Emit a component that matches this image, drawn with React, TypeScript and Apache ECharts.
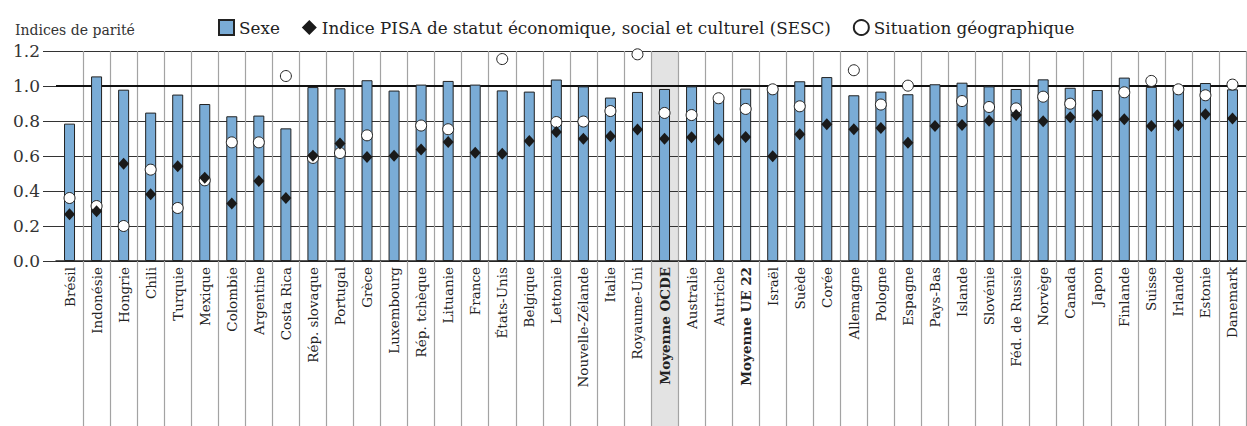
import React, { useEffect, useRef } from "react";
import * as echarts from "echarts";

const categories = [
  "Brésil", "Indonésie", "Hongrie", "Chili", "Turquie", "Mexique", "Colombie", "Argentine",
  "Costa Rica", "Rép. slovaque", "Portugal", "Grèce", "Luxembourg", "Rép. tchèque", "Lituanie",
  "France", "États-Unis", "Belgique", "Lettonie", "Nouvelle-Zélande", "Italie", "Royaume-Uni",
  "Moyenne OCDE", "Australie", "Autriche", "Moyenne UE 22", "Israël", "Suède", "Corée",
  "Allemagne", "Pologne", "Espagne", "Pays-Bas", "Islande", "Slovénie", "Féd. de Russie",
  "Norvège", "Canada", "Japon", "Finlande", "Suisse", "Irlande", "Estonie", "Danemark",
];

const boldCategories = ["Moyenne OCDE", "Moyenne UE 22"];
const highlightCategory = "Moyenne OCDE";

const sexe = [
  0.785, 1.055, 0.979, 0.848, 0.951, 0.897, 0.827, 0.831, 0.758, 0.994, 0.987, 1.033, 0.974,
  1.008, 1.029, 1.008, 0.975, 0.968, 1.037, 0.998, 0.934, 0.966, 0.983, 0.998, 0.93, 0.985,
  0.985, 1.027, 1.051, 0.947, 0.968, 0.953, 1.01, 1.019, 0.998, 0.983, 1.038, 0.99, 0.977,
  1.048, 0.995, 0.998, 1.017, 0.981,
];

const sesc = [
  0.267, 0.284, 0.556, 0.381, 0.541, 0.476, 0.328, 0.457, 0.36, 0.602, 0.671, 0.594, 0.602,
  0.637, 0.68, 0.619, 0.613, 0.686, 0.737, 0.699, 0.713, 0.751, 0.699, 0.707, 0.695, 0.709,
  0.598, 0.724, 0.781, 0.753, 0.76, 0.676, 0.772, 0.777, 0.802, 0.834, 0.798, 0.821, 0.833,
  0.81, 0.772, 0.776, 0.838, 0.815,
];

const geo: (number | string)[] = [
  0.36, 0.314, 0.2, 0.522, 0.303, 0.461, 0.678, 0.678, 1.057, 0.589, 0.617, 0.718, "-",
  0.774, 0.753, "-", 1.154, "-", 0.794, 0.797, 0.857, 1.181, 0.846, 0.834, 0.93, 0.869,
  0.981, 0.884, "-", 1.09, 0.894, 1.002, "-", 0.914, 0.88, 0.872, 0.939, 0.899, "-",
  0.964, 1.029, 0.981, 0.947, 1.008,
];

const yTicks = { min: 0, max: 1.2, interval: 0.2 };

const seriesNames = {
  sexe: "Sexe",
  sesc: "Indice PISA de statut économique, social et culturel (SESC)",
  geo: "Situation géographique",
};

const FONT = "DejaVu Serif";

export default function App() {
  const ref = useRef<HTMLDivElement>(null);

  useEffect(() => {
    if (!ref.current) return;
    const chart = echarts.init(ref.current, undefined, { renderer: "svg" });
    chart.setOption({
      animation: false,
      backgroundColor: "#ffffff",
      textStyle: { fontFamily: FONT },
      title: {
        text: "Indices de parité",
        left: 10,
        top: 18,
        textStyle: { fontFamily: FONT, fontSize: 14, fontWeight: "normal", color: "#333" },
      },
      legend: {
        left: 213,
        top: 14,
        itemWidth: 15,
        itemHeight: 15,
        itemGap: 22,
        textStyle: { fontFamily: FONT, fontSize: 16.8, color: "#222" },
        data: [
          { name: seriesNames.sexe, icon: "rect" },
          { name: seriesNames.sesc, icon: "diamond" },
          { name: seriesNames.geo, icon: "circle" },
        ],
      },
      grid: { left: 56, right: 1, top: 51, bottom: 165, containLabel: false },
      xAxis: {
        type: "category",
        data: categories,
        axisLine: { show: true, lineStyle: { color: "#222", width: 1.5 } },
        axisTick: {
          show: true,
          interval: (i: number) => i !== 0,
          length: 166,
          lineStyle: { color: "#a3a3a3", width: 1.2 },
        },
        splitLine: {
          show: true,
          interval: (i: number) => i !== 0,
          lineStyle: { color: "#a3a3a3", width: 1.2 },
        },
        axisLabel: {
          interval: 0,
          rotate: 90,
          margin: 6,
          color: "#222",
          fontFamily: FONT,
          fontSize: 13.5,
          formatter: (v: string) =>
            boldCategories.includes(v) ? `{b|${v}}` : `{n|${v}}`,
          rich: {
            b: { fontFamily: FONT, fontSize: 13.5, fontWeight: "bold", color: "#222" },
            n: { fontFamily: FONT, fontSize: 13.5, color: "#222" },
          },
        },
      },
      yAxis: {
        type: "value",
        min: yTicks.min,
        max: yTicks.max,
        interval: yTicks.interval,
        axisLine: { show: false },
        axisTick: { show: true, length: 13, lineStyle: { color: "#333", width: 1 } },
        splitLine: { show: true, lineStyle: { color: "#333", width: 1 } },
        axisLabel: {
          margin: 16,
          color: "#333",
          fontFamily: FONT,
          fontSize: 17,
          formatter: (v: number) => v.toFixed(1),
        },
      },
      series: [
        {
          name: seriesNames.sexe,
          type: "bar",
          data: sexe,
          barWidth: 11,
          itemStyle: { color: "#7aacd6", borderColor: "#222", borderWidth: 1 },
          markLine: {
            silent: true,
            symbol: "none",
            label: { show: false },
            lineStyle: { color: "#111", width: 2.2, type: "solid" },
            data: [{ yAxis: 1 }],
            z: 1,
          },
          z: 2,
        },
        {
          name: seriesNames.geo,
          type: "scatter",
          data: geo,
          symbol: "circle",
          symbolSize: 11,
          itemStyle: { color: "#ffffff", borderColor: "#222", borderWidth: 1, opacity: 1 },
          z: 3,
        },
        {
          name: seriesNames.sesc,
          type: "scatter",
          data: sesc,
          symbol: "diamond",
          symbolSize: [11, 12],
          itemStyle: { color: "#1a1a1a", opacity: 1 },
          z: 4,
        },
      ],
    });

    const idx = categories.indexOf(highlightCategory);
    const cx = chart.convertToPixel({ xAxisIndex: 0 }, categories[idx]) as number;
    const cnext = chart.convertToPixel({ xAxisIndex: 0 }, categories[idx + 1]) as number;
    const bw = cnext - cx;
    const top = chart.convertToPixel({ yAxisIndex: 0 }, yTicks.max) as number;
    chart.setOption({
      graphic: [
        {
          type: "rect",
          silent: true,
          z: -10,
          shape: { x: cx - bw / 2, y: top, width: bw, height: 426 - top },
          style: { fill: "#e3e3e3" },
        },
      ],
    });

    return () => chart.dispose();
  }, []);

  return (
    <div
      ref={ref}
      style={{ position: "fixed", left: 0, top: 0, width: 1247, height: 426 }}
    />
  );
}
